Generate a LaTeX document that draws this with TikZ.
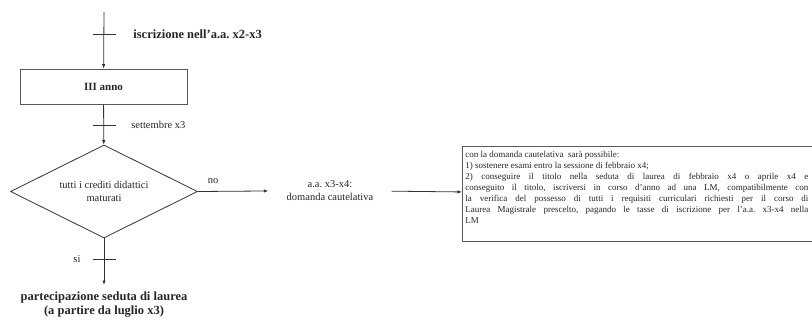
\documentclass[tikz,border=0pt]{standalone}
\usepackage{fontspec}
\setmainfont{Liberation Serif}
\usetikzlibrary{shapes.geometric,arrows.meta}
\tikzset{stepbox/.style={draw=black!65,line width=0.9pt,minimum width=167pt,minimum height=35pt,inner sep=0pt,font=\bfseries\fontsize{11}{13}\selectfont},
  choice/.style={diamond,draw=black!80,line width=0.8pt,minimum width=187pt,minimum height=93pt,inner sep=0pt,aspect=2,align=center,font=\fontsize{10.5}{12.5}\selectfont},
  small/.style={font=\fontsize{10.5}{12.5}\selectfont,inner sep=0pt},
  big/.style={font=\bfseries\fontsize{12.5}{14}\selectfont,inner sep=0pt},
  crossbar/.style={draw=black!80,line width=0.8pt}}
\frenchspacing

\begin{document}
\begin{tikzpicture}[x=1pt,y=-1pt,>={Latex[length=4.5pt,width=3.5pt]},line width=0.8pt,draw=black!80,text=black!85]
    \useasboundingbox (0,0) rectangle (812,321);
    \coordinate (s) at (104,12);
    \coordinate (t1) at (104,34);
    \coordinate (t2) at (104,125);
    \coordinate (t3) at (104,259);
    \coordinate (e) at (104,285);

    \node[stepbox] (a) at (103.5,86.5) {III anno};
    \node[choice] (d) at (104,191.5) {tutti i crediti didattici\\maturati};
    \node[big,align=center,anchor=north] (r) at (104,291) {partecipazione seduta di laurea\\(a partire da luglio x3)};
    \node[small,align=center,inner xsep=18pt] (c) at (330,190.5) {a.a. x3-x4:\\domanda cautelativa};
    \node[draw=black!65,line width=0.9pt,anchor=north west,inner sep=3pt] (n) at (462,146)
      {\parbox[t][89pt][t]{362pt}{\fontsize{9}{11}\selectfont
        \vspace*{1.5pt}con la domanda cautelativa \ sarà possibile:\\
        1) sostenere esami entro la sessione di febbraio x4;\\
        \makebox[343pt][s]{2) conseguire il titolo nella seduta di laurea di febbraio x4 o aprile x4 e}\\
        \makebox[343pt][s]{conseguito il titolo, iscriversi in corso d'anno ad una LM, compatibilmente con}\\
        \makebox[343pt][s]{la verifica del possesso di tutti i requisiti curriculari richiesti per il corso di}\\
        \makebox[343pt][s]{Laurea Magistrale prescelto, pagando le tasse di iscrizione per l'a.a. x3-x4 nella}\\
        LM}};

    % labels
    \node[big,anchor=west] (l1) at (133,34) {iscrizione nell'a.a. x2-x3};
    \node[small,anchor=west] (l2) at (131,125) {settembre x3};
    \node[small] (l3) at (213,181) {no};
    \node[small] (l4) at (77,259) {si};

    \draw [->] (s) to (a);
    \draw [->] (a) to (d);
    \draw [->] (d) to (e);
    \draw [->] (d.east) to (c);
    \draw [->] (c) to (n);

    \draw [crossbar] ([xshift=-11.5pt]t1) -- ([xshift=11.5pt]t1);
    \draw [crossbar] ([xshift=-11.5pt]t2) -- ([xshift=11.5pt]t2);
    \draw [crossbar] ([xshift=-11.5pt]t3) -- ([xshift=11.5pt]t3);
\end{tikzpicture}
\end{document}
